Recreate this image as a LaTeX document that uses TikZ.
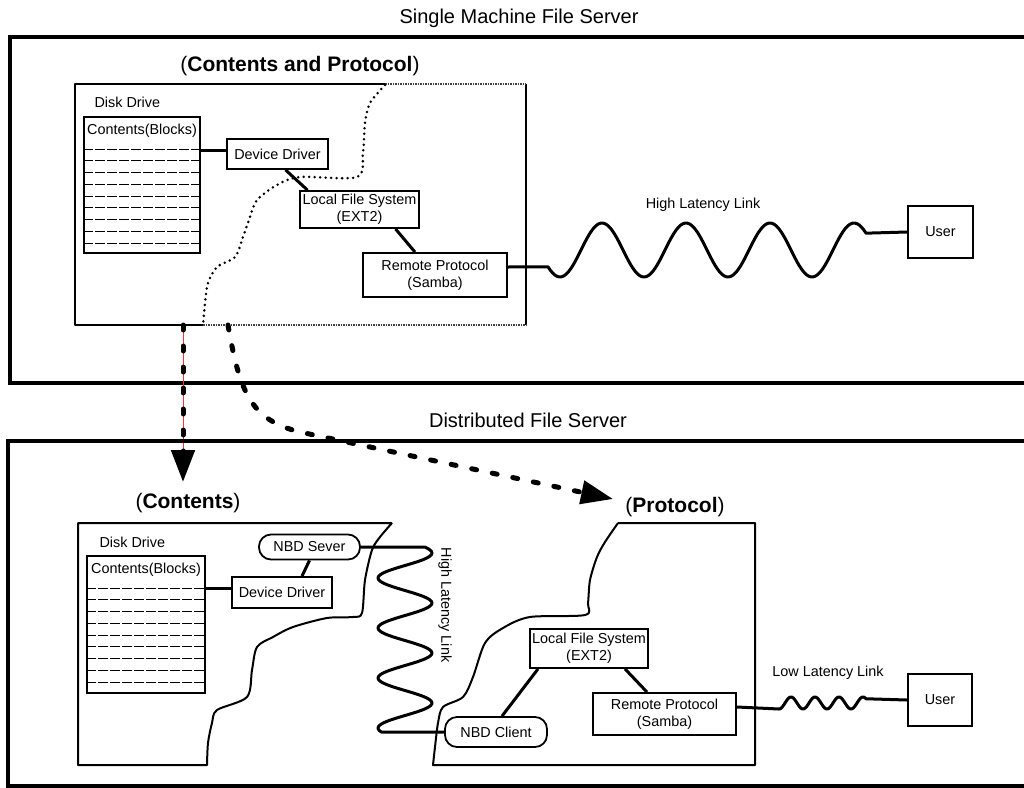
\documentclass[tikz,border=0pt]{standalone}
\usepackage{fontspec}
\setmainfont{Liberation Sans}
\usetikzlibrary{arrows.meta,positioning}
\newcommand\figsmall{\fontsize{14.4}{17}\selectfont}
\newcommand\figtitle{\fontsize{20}{24}\selectfont}
\newcommand\fighead{\fontsize{21}{25}\selectfont}
\tikzset{frame/.style={line width=3.5pt},
  outline/.style={line width=2pt,line join=round},
  halfedge/.style={line width=1.6pt,black!75,dash pattern=on 1.5pt off 1pt},
  blk/.style={draw,line width=1.8pt,fill=white,align=center,inner sep=0pt,font=\figsmall},
  pill/.style={blk,rounded corners=12pt},
  rows/.style={line width=1.1pt,dash pattern=on 10pt off 2pt},
  wire/.style={line width=3pt},
  wave/.style={line width=3pt,line join=round},
  cut/.style={line width=2.8pt,line cap=round,dash pattern=on 0pt off 5.5pt},
  move/.style={line width=5pt,line cap=round,dash pattern=on 5pt off 16pt,
    -{Triangle[length=32pt,width=23pt]}},
  redline/.style={red!80,line width=0.8pt}}

\begin{document}
\begin{tikzpicture}[x=1pt,y=-1pt]
\useasboundingbox (0,0) rectangle (1024,787);
\fill[white] (0,0) rectangle (1024,787);

% single machine
\draw[frame] (1040,37) -- (10,37) -- (10,383) -- (1040,383);
\node[font=\figtitle] (single) at (519,18) {Single Machine File Server};
\draw[outline] (385,84) -- (75,84) -- (75,325) -- (203,325);
\draw[outline] (526,84) -- (526,325);
\draw[halfedge] (385,84) -- (526,84);
\draw[halfedge] (203,325) -- (526,325);
\draw[cut] plot[smooth,tension=.5] coordinates {(385,85) (370,103) (365,123)
  (363,153) (357,177) (300,177) (277,185) (257,200) (250,217) (243,237)
  (235,257) (217,267) (208,283) (205,303) (203,325)};
\node[font=\fighead] (cphead) at (300,66) {(\textbf{Contents and Protocol})};
\node[font=\figsmall,anchor=west] (disk1) at (91,102) {Disk Drive};
\node[blk,minimum width=116pt,minimum height=136pt] (blocks1) at (142,185) {};
\node[font=\figsmall] (blocks1t) at (142,131) {Contents(Blocks)};
\foreach \k in {0,...,8}
  \draw[rows] ([yshift=-33pt-11.75pt*\k]blocks1.north west) -- ([yshift=-33pt-11.75pt*\k]blocks1.north east);
\node[blk,minimum width=101pt,minimum height=30pt] (drv1) at (277.5,154) {Device Driver};
\node[blk,minimum width=119pt,minimum height=37pt] (lfs1) at (359.5,209.5) {Local File System\\(EXT2)};
\node[blk,minimum width=144pt,minimum height=44pt] (rp1) at (435,275) {Remote Protocol\\(Samba)};
\node[blk,minimum width=65pt,minimum height=52pt] (user1) at (940.5,232) {User};
\node[font=\figsmall] (hll1) at (703,205) {High Latency Link};

\draw[wire] ([yshift=4pt]blocks1.east |- drv1.west) -- ([yshift=4pt]drv1.west);
\draw[wire] ([xshift=8pt]drv1.south) -- ([xshift=-52pt]lfs1.north);
\draw[wire] ([xshift=36pt]lfs1.south) -- ([xshift=-20pt]rp1.north);
\draw[wave] ([yshift=8pt]rp1.east) -- plot[domain=548:866,samples=140,smooth]
  (\x,{250+27*cos(4.285714*(\x-560))}) -- (user1.west);

% moving the parts apart
\coordinate (down0) at (183,325);
\coordinate (down1) at (183,482);
\coordinate (bend0) at (228,325);
\coordinate (bend1) at (613,499);
\draw[redline] (down0) -- ([yshift=32pt]down1);
\draw[move] (down0) -- (down1);
\draw[move] (bend0) .. controls (240,395) and (252,420) .. (300,432) -- (bend1);

% distributed
\draw[frame] (1040,441) -- (8,441) -- (8,786) -- (1040,786);
\node[font=\figtitle] (dist) at (528,420) {Distributed File Server};
\node[font=\fighead] (chead) at (188,503) {(\textbf{Contents})};
\node[font=\fighead] (phead) at (675,507) {(\textbf{Protocol})};
\draw[outline] (392,523) -- (78,523) -- (78,765) -- (207,765) -- plot[smooth,tension=.5]
  coordinates {(207,765) (208,743) (212,723) (217,710) (247,697) (252,670)
  (257,647) (273,637) (293,627) (327,618) (353,617) (362,613) (365,580)
  (372,550) (380,537) (392,523)};
\draw[outline] (618,523) -- (755,523) -- (755,765) -- (433,765) -- plot[smooth,tension=.5]
  coordinates {(433,765) (435,747) (438,723) (443,707) (463,697) (473,677)
  (485,643) (503,628) (530,617) (585,615) (588,603) (590,580) (597,557)
  (605,542) (618,523)};
\node[font=\figsmall,anchor=west] (disk2) at (96,542) {Disk Drive};
\node[blk,minimum width=118pt,minimum height=137pt] (blocks2) at (146,624.5) {};
\node[font=\figsmall] (blocks2t) at (146,570) {Contents(Blocks)};
\foreach \k in {0,...,8}
  \draw[rows] ([yshift=-33pt-11.75pt*\k]blocks2.north west) -- ([yshift=-33pt-11.75pt*\k]blocks2.north east);
\node[blk,minimum width=100pt,minimum height=31pt] (drv2) at (282,592.5) {Device Driver};
\node[pill,minimum width=101pt,minimum height=25pt] (nbd2) at (309.5,547) {NBD Sever};
\node[pill,minimum width=102pt,minimum height=30pt] (client) at (496,732) {NBD Client};
\node[blk,minimum width=118pt,minimum height=39pt] (lfs2) at (589,648.5) {Local File System\\(EXT2)};
\node[blk,minimum width=143pt,minimum height=42pt] (rp2) at (664.5,714) {Remote Protocol\\(Samba)};
\node[blk,minimum width=64pt,minimum height=52pt] (user2) at (940,700) {User};
\node[font=\figsmall,rotate=-90] (hll2) at (445,605) {High Latency Link};
\node[font=\figsmall] (lll) at (828,673) {Low Latency Link};

\draw[wire] ([yshift=4.5pt]blocks2.east |- drv2.west) -- ([yshift=4.5pt]drv2.west);
\draw[wire] (nbd2.south) -- ([xshift=20pt]drv2.north);
\draw[wave] (nbd2.east) -- plot[domain=547:732,samples=120,smooth]
  ({405+27*cos(7.2*(\x-553))},\x) -- (client.west);
\draw[wire] ([xshift=-51pt]lfs2.south) -- ([xshift=6pt]client.north);
\draw[wire] ([xshift=36pt]lfs2.south) -- ([xshift=-17.5pt]rp2.north);
\draw[wave] ([yshift=7pt]rp2.east) -- plot[domain=779:866,samples=90,smooth]
  (\x,{703-6*cos(15*(\x-791))}) -- (user2.west);
\end{tikzpicture}
\end{document}
